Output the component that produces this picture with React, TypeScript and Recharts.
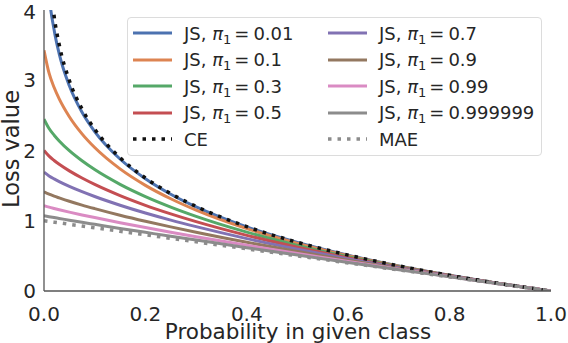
import { LineChart, Line, XAxis, YAxis, Legend, Label } from 'recharts';

// probability of the given class (x grid)
const P = [0, 0.01, 0.02, 0.03, 0.05, 0.075, 0.1, 0.15, 0.2, 0.25, 0.3, 0.4, 0.5, 0.6, 0.7, 0.8, 0.9, 1.0];

// loss values
const JS_001 = [5.628, 4.242, 3.717, 3.376, 2.921, 2.544, 2.27, 1.879, 1.598, 1.378, 1.198, 0.913, 0.692, 0.51, 0.356, 0.223, 0.105, 0];
const JS_01 = [3.428, 3.101, 2.897, 2.735, 2.481, 2.237, 2.042, 1.738, 1.504, 1.313, 1.151, 0.888, 0.678, 0.503, 0.353, 0.222, 0.105, 0];
const JS_03 = [2.447, 2.313, 2.218, 2.136, 1.997, 1.853, 1.728, 1.518, 1.344, 1.195, 1.063, 0.838, 0.65, 0.488, 0.346, 0.219, 0.105, 0];
const JS_05 = [2.0, 1.919, 1.858, 1.804, 1.71, 1.608, 1.517, 1.358, 1.22, 1.098, 0.987, 0.792, 0.623, 0.473, 0.338, 0.216, 0.104, 0];
const JS_07 = [1.691, 1.638, 1.596, 1.558, 1.49, 1.414, 1.345, 1.221, 1.11, 1.009, 0.916, 0.746, 0.595, 0.457, 0.33, 0.213, 0.103, 0];
const JS_09 = [1.412, 1.378, 1.35, 1.325, 1.277, 1.223, 1.173, 1.079, 0.993, 0.913, 0.836, 0.693, 0.561, 0.437, 0.32, 0.209, 0.102, 0];
const JS_099 = [1.216, 1.194, 1.175, 1.157, 1.123, 1.083, 1.045, 0.972, 0.903, 0.837, 0.773, 0.65, 0.533, 0.42, 0.311, 0.205, 0.101, 0];
const JS_0999999 = [1.072, 1.058, 1.045, 1.033, 1.008, 0.978, 0.949, 0.891, 0.835, 0.779, 0.725, 0.617, 0.511, 0.407, 0.304, 0.202, 0.1, 0];
const CE = [null, 4.605, 3.912, 3.507, 2.996, 2.59, 2.303, 1.897, 1.609, 1.386, 1.204, 0.916, 0.693, 0.511, 0.357, 0.223, 0.105, 0];
const MAE = [1, 0.99, 0.98, 0.97, 0.95, 0.925, 0.9, 0.85, 0.8, 0.75, 0.7, 0.6, 0.5, 0.4, 0.3, 0.2, 0.1, 0];

const PI_LABELS = ['0.01', '0.1', '0.3', '0.5', '0.7', '0.9', '0.99', '0.999999'];
const JS_VALUES = [JS_001, JS_01, JS_03, JS_05, JS_07, JS_09, JS_099, JS_0999999];
const COLORS = ['#4c72b0', '#dd8452', '#55a868', '#c44e52', '#8172b3', '#937860', '#da8bc3', '#8c8c8c'];

const X_TICKS = [0, 0.2, 0.4, 0.6, 0.8, 1.0];
const Y_TICKS = [0, 1, 2, 3, 4];

const TEXT = '#262626';
const AXIS = '#555555';
const CE_COLOR = '#111111';
const MAE_COLOR = '#8c8c8c';
const DOTS = '3.5 6';

const rows = P.map((p, i) => {
  const row: Record<string, number | null> = { p, ce: CE[i], mae: MAE[i] };
  JS_VALUES.forEach((vals, k) => {
    row[`js${k}`] = vals[i];
  });
  return row;
});

function Handle({ color, dashed }: { color: string; dashed?: boolean }) {
  return (
    <svg width={39} height={8} style={{ display: 'block' }}>
      <line
        x1={0}
        y1={4}
        x2={39}
        y2={4}
        stroke={color}
        strokeWidth={dashed ? 3.5 : 3}
        strokeDasharray={dashed ? DOTS : undefined}
      />
    </svg>
  );
}

function JsLabel({ pi }: { pi: string }) {
  return (
    <span>
      JS,{' '}
      <span style={{ fontStyle: 'italic' }}>π</span>
      <span style={{ fontSize: 13, position: 'relative', top: 4 }}>1</span>
      <span style={{ margin: '0 4px 0 3px' }}>=</span>
      {pi}
    </span>
  );
}

function LegendBox() {
  const left = [0, 1, 2, 3];
  const right = [4, 5, 6, 7];
  const row = (i: number) => ({
    position: 'absolute' as const,
    top: 2 + i * 26.5,
    height: 26.5,
    display: 'flex',
    alignItems: 'center',
  });
  return (
    <div
      style={{
        width: 415,
        height: 139,
        boxSizing: 'border-box',
        border: '1px solid #dcdcdc',
        borderRadius: 4,
        background: 'rgba(255,255,255,0.8)',
        position: 'relative',
        fontSize: 18,
        color: TEXT,
        fontFamily: '"DejaVu Sans", sans-serif',
        whiteSpace: 'nowrap',
      }}
    >
      {left.map((k, i) => (
        <div key={k} style={{ ...row(i), left: 5 }}>
          <Handle color={COLORS[k]} />
          <span style={{ marginLeft: 12 }}>
            <JsLabel pi={PI_LABELS[k]} />
          </span>
        </div>
      ))}
      <div style={{ ...row(4), left: 5 }}>
        <Handle color={CE_COLOR} dashed />
        <span style={{ marginLeft: 12 }}>CE</span>
      </div>
      {right.map((k, i) => (
        <div key={k} style={{ ...row(i), left: 200 }}>
          <Handle color={COLORS[k]} />
          <span style={{ marginLeft: 12 }}>
            <JsLabel pi={PI_LABELS[k]} />
          </span>
        </div>
      ))}
      <div style={{ ...row(4), left: 200 }}>
        <Handle color={MAE_COLOR} dashed />
        <span style={{ marginLeft: 12 }}>MAE</span>
      </div>
    </div>
  );
}

export default function App() {
  return (
    <div
      style={{
        position: 'relative',
        width: 568,
        height: 343,
        fontFamily: '"DejaVu Sans", sans-serif',
        background: '#fff',
      }}
    >
      <style>{'body{margin:0}'}</style>
      <LineChart width={568} height={343} data={rows} margin={{ top: 10, right: 17, bottom: 0, left: 0 }}>
        <XAxis
          dataKey="p"
          type="number"
          domain={[0, 1]}
          ticks={X_TICKS}
          tickFormatter={(v: number) => v.toFixed(1)}
          allowDataOverflow
          height={52}
          tickLine={false}
          tickMargin={10}
          axisLine={{ stroke: AXIS, strokeWidth: 1.3 }}
          tick={{ fill: TEXT, fontSize: 20 }}
        >
          <Label
            content={() => (
              <text x={298} y={338.5} textAnchor="middle" fill={TEXT} fontSize={21.5}>
                Probability in given class
              </text>
            )}
          />
        </XAxis>
        <YAxis
          type="number"
          domain={[0, 4]}
          ticks={Y_TICKS}
          allowDataOverflow
          width={44}
          tickLine={false}
          axisLine={{ stroke: AXIS, strokeWidth: 1.3 }}
          tick={{ fill: TEXT, fontSize: 20 }}
        >
          <Label
            content={() => (
              <text x={19} y={149} transform="rotate(-90 19 149)" textAnchor="middle" fill={TEXT} fontSize={22.5}>
                Loss value
              </text>
            )}
          />
        </YAxis>
        {JS_VALUES.map((_, k) => (
          <Line
            key={k}
            type="monotone"
            dataKey={`js${k}`}
            name={`JS ${PI_LABELS[k]}`}
            stroke={COLORS[k]}
            strokeWidth={3}
            dot={false}
            activeDot={false}
            isAnimationActive={false}
          />
        ))}
        <Line
          type="monotone"
          dataKey="ce"
          name="CE"
          stroke={CE_COLOR}
          strokeWidth={3.5}
          strokeDasharray={DOTS}
          dot={false}
          activeDot={false}
          isAnimationActive={false}
        />
        <Line
          type="monotone"
          dataKey="mae"
          name="MAE"
          stroke={MAE_COLOR}
          strokeWidth={3.5}
          strokeDasharray={DOTS}
          dot={false}
          activeDot={false}
          isAnimationActive={false}
        />
        <Legend
          layout="horizontal"
          verticalAlign="middle"
          align="center"
          content={() => <LegendBox />}
          wrapperStyle={{ left: 127, top: 17, width: 415, height: 139 }}
        />
      </LineChart>
    </div>
  );
}
